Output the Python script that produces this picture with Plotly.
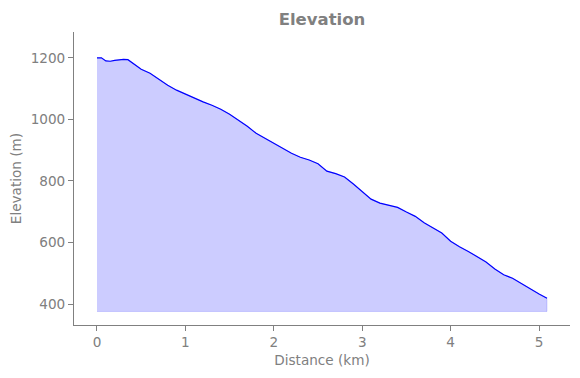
import plotly.graph_objects as go

distance_km = [0, 0.05, 0.1, 0.15, 0.2, 0.3, 0.35, 0.4, 0.45, 0.5, 0.6, 0.7, 0.8, 0.9,
               1.0, 1.1, 1.2, 1.3, 1.4, 1.5, 1.6, 1.7, 1.8, 1.9, 2.0, 2.1, 2.2, 2.3,
               2.4, 2.5, 2.55, 2.6, 2.7, 2.8, 2.9, 3.0, 3.1, 3.2, 3.3, 3.4, 3.5, 3.6,
               3.7, 3.8, 3.9, 4.0, 4.1, 4.2, 4.3, 4.4, 4.5, 4.6, 4.7, 4.8, 4.9, 5.0, 5.09]
elevation_m = [1200, 1200, 1190, 1189, 1192, 1195, 1194, 1184, 1172, 1163, 1150, 1130,
               1111, 1095, 1082, 1069, 1057, 1046, 1033, 1017, 998, 978, 955, 939, 921,
               907, 890, 877, 868, 856, 845, 832, 824, 813, 790, 764, 741, 728, 722, 714,
               699, 685, 664, 647, 631, 604, 586, 571, 555, 537, 514, 495, 484, 466, 450,
               433, 419]
fill_base = 376
x_ticks = [0, 1, 2, 3, 4, 5]
y_ticks = [400, 600, 800, 1000, 1200]

gray = "#808080"
font_family = "DejaVu Sans"
fs = 13.6

fig = go.Figure()
fig.add_trace(go.Scatter(
    x=distance_km + distance_km[::-1],
    y=elevation_m + [fill_base] * len(distance_km),
    fill="toself", fillcolor="rgba(0,0,255,0.2)",
    line=dict(color="rgba(0,0,255,0.15)", width=1),
    mode="lines", hoverinfo="skip", showlegend=False,
))
fig.add_trace(go.Scatter(
    x=distance_km, y=elevation_m, mode="lines",
    line=dict(color="blue", width=1.2), showlegend=False,
))

axis_common = dict(
    showgrid=False, zeroline=False, showline=True, linecolor=gray, linewidth=1,
    ticks="outside", ticklen=5, tickwidth=1, tickcolor=gray, automargin=False,
    tickfont=dict(family=font_family, size=fs, color=gray),
)
fig.update_layout(
    width=572, height=370,
    margin=dict(l=66, r=10, t=24, b=53),
    paper_bgcolor="white", plot_bgcolor="white",
    title=dict(text="<b>Elevation</b>", x=0.5, xref="paper", xanchor="center",
               y=1 - 11.5 / 370, yref="container", yanchor="middle",
               font=dict(family=font_family, size=16.5, color=gray)),
    xaxis=dict(range=[-0.26, 5.35], tickvals=x_ticks, ticktext=[str(t) for t in x_ticks],
               title=dict(text="Distance (km)", standoff=6,
                          font=dict(family=font_family, size=fs, color=gray)),
               **axis_common),
    yaxis=dict(range=[332, 1284], tickvals=y_ticks, ticktext=[str(t) for t in y_ticks],
               title=dict(text="Elevation (m)", standoff=5,
                          font=dict(family=font_family, size=fs, color=gray)),
               **axis_common),
)
fig.write_html("out.html")
